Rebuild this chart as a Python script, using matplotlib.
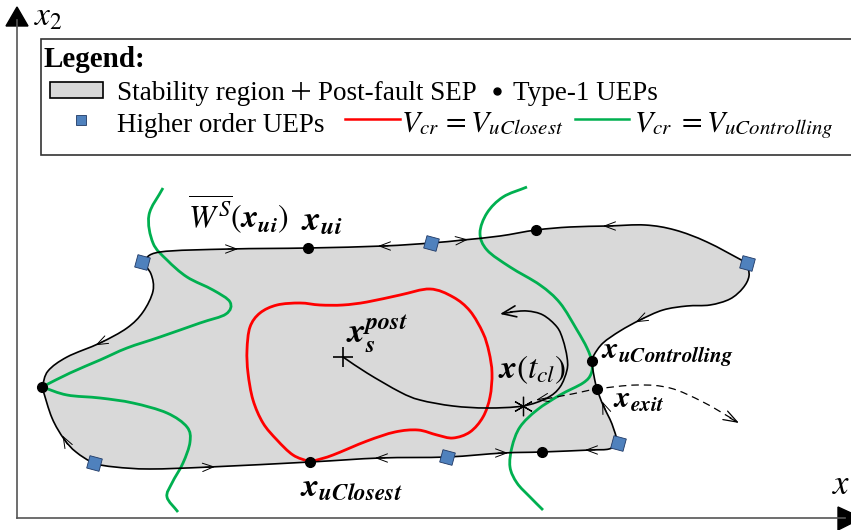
import numpy as np
import matplotlib
matplotlib.use("Agg")
import matplotlib.pyplot as plt
from matplotlib.path import Path
from matplotlib.patches import PathPatch, Rectangle, Polygon

plt.rcParams['font.family'] = ['Liberation Serif', 'DejaVu Serif']
plt.rcParams['mathtext.fontset'] = 'stix'

# ---- schematic data (pixel-like canvas coordinates, y down) ----
# stability-region boundary, split at its corners
boundary_top = [(142, 262), (160, 252), (230, 249), (308, 248), (383, 246), (431, 243),
                (463, 240), (500, 236), (536, 230), (570, 227), (608, 226), (645, 225),
                (675, 230), (707, 242), (747, 263)]
boundary_right = [(747, 263), (749, 276), (743, 288), (730, 299), (710, 305), (687, 306),
                  (663, 310), (640, 320), (620, 331), (603, 343), (594, 355), (592, 362),
                  (594, 376), (597, 389), (603, 405), (612, 424), (618, 443)]
boundary_bottom = [(618, 443), (609, 449), (590, 450), (542, 452), (503, 453), (447, 457),
                   (380, 458), (310, 462), (210, 467), (150, 469), (115, 467), (94, 463),
                   (76, 452), (64, 439), (52, 418), (42, 387)]
boundary_left = [(42, 387), (48, 371), (67, 357), (100, 343), (127, 328), (143, 312),
                 (153, 291), (151, 274), (142, 262)]

closest_curve = [(310, 462), (293, 455), (277, 440), (263, 423), (253, 400), (248, 373),
                 (247, 350), (250, 327), (260, 313), (277, 305), (300, 303), (320, 305),
                 (343, 305), (367, 302), (400, 295), (430, 289), (453, 297), (470, 311),
                 (483, 333), (489, 352), (492, 373), (490, 397), (483, 417), (470, 432),
                 (453, 438), (437, 435), (418, 430), (395, 432), (367, 441), (333, 455),
                 (317, 460), (310, 462)]

control_left_a = [(163, 188), (149, 215), (153, 243), (167, 260), (187, 277), (213, 290),
                  (230, 302), (226, 314), (200, 323), (160, 337), (127, 348), (100, 360),
                  (70, 373), (42, 387)]
control_left_b = [(42, 387), (67, 395), (100, 398), (133, 403), (167, 413), (187, 427),
                  (190, 442), (183, 463), (172, 483), (167, 497), (178, 512)]
control_right = [(527, 187), (503, 197), (487, 213), (480, 233), (487, 250), (510, 267),
                 (540, 285), (560, 303), (577, 330), (587, 348), (592, 362), (591, 374),
                 (583, 383), (560, 395), (537, 410), (520, 427), (512, 447), (510, 467),
                 (517, 483), (530, 497), (543, 510)]

trajectory = [(343, 357), (367, 373), (400, 392), (420, 400), (453, 406), (487, 408),
              (523, 406), (547, 398), (560, 387), (567, 370), (567, 357), (563, 340),
              (557, 327), (543, 315), (527, 311), (510, 312)]
escape_path = [(545, 399), (572, 394), (597, 389), (637, 385), (670, 388), (703, 402),
               (736, 421)]

sep_point = (343, 357)
clear_point = (523, 406)
type1_ueps = [(308, 248), (536, 230), (42, 387), (310, 462), (542, 452), (592, 361), (597, 389)]
higher_ueps = [(142, 262), (431, 243), (747, 263), (618, 443), (447, 457), (94, 463)]

# boundary flow arrows: (x, y, dx, dy)
flow_arrows = [(233, 249, 1, 0), (383, 246, -1, 0), (463, 240, 1, -0.1), (608, 226, -1, 0),
               (640, 320, -1, 0.5), (604, 406, -0.4, -1), (590, 450, -1, 0),
               (503, 453, 1, 0), (380, 458, -1, 0), (210, 467, 1, -0.05),
               (65, 440, -0.55, -1), (100, 343, -1, 0.5), (541, 399, -1, 0.2)]

gray = '#d9d9d9'
red = '#ff0000'
green = '#00b050'
blue = '#4f81bd'


def spline(pts):
    p = np.asarray(pts, float)
    ext = np.vstack([2 * p[0] - p[1], p, 2 * p[-1] - p[-2]])
    verts = [p[0]]
    codes = [Path.MOVETO]
    for i in range(1, len(ext) - 2):
        p0, p1, p2, p3 = ext[i - 1], ext[i], ext[i + 1], ext[i + 2]
        verts += [p1 + (p2 - p0) / 6, p2 - (p3 - p1) / 6, p2]
        codes += [Path.CURVE4] * 3
    return verts, codes


def curve_patch(segments, closed=False, **kw):
    verts, codes = [], []
    for k, seg in enumerate(segments):
        v, c = spline(seg)
        if k > 0:
            v, c = v[1:], c[1:]
        verts += v
        codes += c
    if closed:
        verts.append(verts[0])
        codes.append(Path.CLOSEPOLY)
    return PathPatch(Path(verts, codes), **kw)


fig = plt.figure(figsize=(8.51, 5.30), dpi=100)
ax = fig.add_axes([0, 0, 1, 1])
ax.set_xlim(0, 851)
ax.set_ylim(530, 0)
ax.axis('off')

# axes arrows
ax.plot([17, 17], [518, 20], color='#555555', lw=1.2)
ax.plot([17, 845], [518, 518], color='#555555', lw=1.2)
ax.add_patch(Polygon([(6, 26), (17, 7), (28, 26)], color='black'))
ax.add_patch(Polygon([(838, 507), (862, 518), (838, 530)], color='black'))
ax.text(34, 26, r'$x_2$', fontsize=24, va='baseline')
ax.text(832, 494, r'$x$', fontsize=25, va='baseline')

# stability region
ax.add_patch(curve_patch([boundary_top, boundary_right, boundary_bottom, boundary_left],
                         closed=True, facecolor=gray, edgecolor='none', zorder=1))
ax.add_patch(curve_patch([boundary_top, boundary_right, boundary_bottom, boundary_left],
                         fill=False, edgecolor='black', lw=1.2, zorder=4))

# energy level curves
ax.add_patch(curve_patch([closest_curve], fill=False, edgecolor=red, lw=2, zorder=3))
ax.add_patch(curve_patch([control_left_a, control_left_b], fill=False, edgecolor=green,
                         lw=2, zorder=3))
ax.add_patch(curve_patch([control_right], fill=False, edgecolor=green, lw=2, zorder=3))

# fault-on / post-fault trajectory
ax.add_patch(curve_patch([trajectory], fill=False, edgecolor='black', lw=1.2, zorder=5))
ax.annotate('', xy=(500, 314), xytext=(512, 312),
            arrowprops=dict(arrowstyle='->,head_length=1.0,head_width=0.4', lw=1.2,
                            shrinkA=0, shrinkB=0), zorder=5)
ax.add_patch(curve_patch([escape_path], fill=False, edgecolor='black', lw=0.9,
                         linestyle=(0, (6, 4)), zorder=5))
ax.annotate('', xy=(739, 423), xytext=(730, 418),
            arrowprops=dict(arrowstyle='->,head_length=1.0,head_width=0.35', lw=0.9,
                            shrinkA=0, shrinkB=0), zorder=5)

for x, y, dx, dy in flow_arrows:
    n = np.hypot(dx, dy)
    ax.annotate('', xy=(x + 5 * dx / n, y + 5 * dy / n), xytext=(x - 5 * dx / n, y - 5 * dy / n),
                arrowprops=dict(arrowstyle='->,head_length=0.8,head_width=0.3', lw=0.7,
                                shrinkA=0, shrinkB=0), zorder=5)

# equilibrium points
ax.plot(*sep_point, marker='+', ms=14, mew=1.2, color='black', zorder=6)
ax.plot(*clear_point, marker=(6, 2, 0), ms=14, mew=0.9, color='black', zorder=6)
ux, uy = zip(*type1_ueps)
ax.plot(ux, uy, 'o', ms=7, color='black', zorder=6)
hx, hy = zip(*higher_ueps)
ax.plot(hx, hy, marker=(4, 0, 30), ms=13, ls='none', mfc=blue, mec='#1f3864', mew=0.6,
        zorder=6)

# labels
ax.text(188, 228, r'$\overline{W^{S}}(\mathbfit{x}_{\mathbfit{ui}})$', fontsize=23,
        va='baseline', zorder=7)
ax.text(301, 230, r'$\mathbfit{x}_{\mathbfit{ui}}$', fontsize=25, va='baseline', zorder=7)
ax.text(346, 343, r'$\mathbfit{x}_{\mathbfit{s}}^{\mathbfit{post}}$', fontsize=25,
        va='baseline', zorder=7)
ax.text(498, 378, r'$\mathbfit{x}(t_{cl})$', fontsize=24, va='baseline', zorder=7)
ax.text(601, 358, r'$\mathbfit{x}_{\mathbfit{uControlling}}$', fontsize=22,
        va='baseline', zorder=7)
ax.text(613, 408, r'$\mathbfit{x}_{\mathbfit{exit}}$', fontsize=22, va='baseline', zorder=7)
ax.text(300, 495, r'$\mathbfit{x}_{\mathbfit{uClosest}}$', fontsize=24, va='baseline',
        zorder=7)

# legend box
ax.add_patch(Rectangle((41, 39), 830, 116, facecolor='white', edgecolor='#333333',
                       lw=1.2, zorder=8))
ax.text(43, 67, 'Legend:', fontsize=21, fontweight='bold', va='baseline', zorder=9)
ax.add_patch(Rectangle((50, 82), 53, 16, facecolor=gray, edgecolor='black', lw=1.2,
                       zorder=9))
ax.text(117, 100, 'Stability region', fontsize=19.5, va='baseline', zorder=9)
ax.plot(301, 91, marker='+', ms=13, mew=1.2, color='black', zorder=9)
ax.text(318, 100, 'Post-fault SEP', fontsize=19.5, va='baseline', zorder=9)
ax.plot(497, 91, 'o', ms=5, color='black', zorder=9)
ax.text(513, 100, 'Type-1 UEPs', fontsize=19.5, va='baseline', zorder=9)
ax.plot(81, 120, marker='s', ms=7, mfc=blue, mec='#1f3864', mew=0.6, zorder=9)
ax.text(117, 132, 'Higher order UEPs', fontsize=19.5, va='baseline', zorder=9)
ax.plot([345, 400], [119, 119], color=red, lw=1.8, zorder=9)
ax.text(401, 131, r'$V_{cr}\,=V_{uClosest}$', fontsize=21.5, va='baseline', zorder=9)
ax.plot([575, 629], [119, 119], color=green, lw=1.8, zorder=9)
ax.text(634, 131, r'$V_{cr}\;=V_{uControlling}$', fontsize=21.5, va='baseline', zorder=9)

fig.savefig('out.png', dpi=100)
